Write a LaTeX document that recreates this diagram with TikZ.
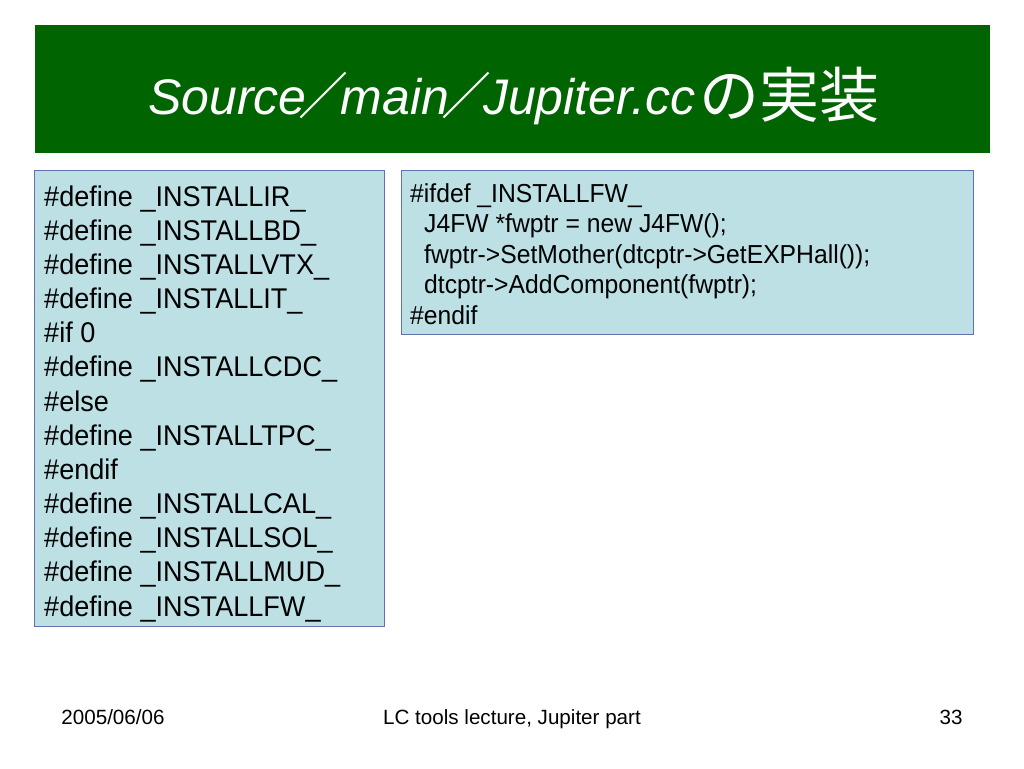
\documentclass[tikz,border=0pt]{standalone}
\usepackage{fontspec}
\setmainfont{Liberation Sans}
\newfontfamily\jp{Noto Sans CJK JP}
\newfontfamily\codefont{Liberation Sans}[FakeStretch=0.95]
\newcommand\tlat{\itshape\fontsize{50}{60}\selectfont}
\newcommand\tslash{{\jp\fontsize{50}{60}\selectfont\kern-8pt／\kern-8pt}}
\definecolor{bargreen}{RGB}{0,100,0}
\definecolor{boxfill}{RGB}{188,224,228}
\definecolor{boxline}{RGB}{96,112,176}
\tikzset{
  codebox/.style={draw=boxline, line width=1pt, fill=boxfill, inner sep=0pt, anchor=north west},
  codeL/.style={anchor=base west, inner sep=0pt, font=\codefont\fontsize{28.5}{34}\selectfont},
  codeR/.style={anchor=base west, inner sep=0pt, font=\codefont\fontsize{26}{30}\selectfont},
  foot/.style={anchor=base, inner sep=0pt, font=\fontsize{20.6}{24}\selectfont}
}
\begin{document}
\begin{tikzpicture}[x=1pt,y=-1pt]
\useasboundingbox (0,0) rectangle (1024,768);
\fill[white] (0,0) rectangle (1024,768);
\node[fill=bargreen, inner sep=0pt, minimum width=955pt, minimum height=128pt, anchor=north west] (bar) at (35,25) {};
\node[text=white, inner sep=0pt, anchor=base west] (title) at (148,114)
  {{\tlat Source}\tslash{\tlat main}\tslash{\tlat Jupiter.cc}\kern4pt{\jp\fontsize{60}{60}\selectfont\raisebox{-3pt}{の実装}}};
\node[codebox, minimum width=350pt, minimum height=456pt] (left) at (34,170) {};
\node[codebox, minimum width=572pt, minimum height=164pt] (right) at (401,170) {};
\foreach \t [count=\i from 0] in {\#define \_INSTALLIR\_, \#define \_INSTALLBD\_, \#define \_INSTALLVTX\_, \#define \_INSTALLIT\_, \#if 0, \#define \_INSTALLCDC\_, \#else, \#define \_INSTALLTPC\_, \#endif, \#define \_INSTALLCAL\_, \#define \_INSTALLSOL\_, \#define \_INSTALLMUD\_, \#define \_INSTALLFW\_}
  \node[codeL] (l\i) at (44, 206+34.17*\i) {\t};
\node[codeR] (r0) at (410,202) {\#ifdef \_INSTALLFW\_};
\node[codeR] (r1) at (424,232.5) {J4FW *fwptr = new J4FW();};
\node[codeR] (r2) at (424,263) {fwptr-{}>SetMother(dtcptr-{}>GetEXPHall());};
\node[codeR] (r3) at (424,293.5) {dtcptr-{}>AddComponent(fwptr);};
\node[codeR] (r4) at (410,324) {\#endif};
\node[foot] (date) at (113,724) {2005/06/06};
\node[foot] (course) at (512,724) {LC tools lecture, Jupiter part};
\node[foot] (page) at (951,724) {33};
\end{tikzpicture}
\end{document}
